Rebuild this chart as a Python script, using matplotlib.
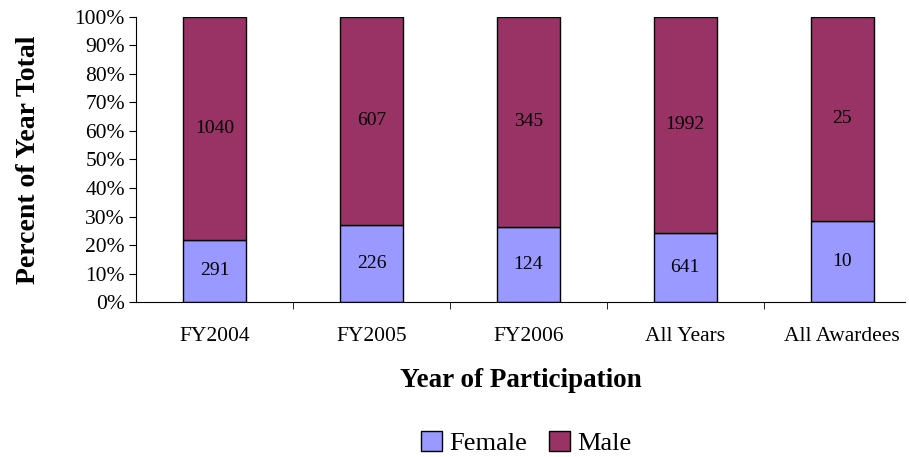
import matplotlib.pyplot as plt
import numpy as np

plt.rcParams['font.family'] = ['Liberation Serif', 'DejaVu Serif']

categories = ['FY2004', 'FY2005', 'FY2006', 'All Years', 'All Awardees']
female = [291, 226, 124, 641, 10]
male = [1040, 607, 345, 1992, 25]

female = np.array(female, dtype=float)
male = np.array(male, dtype=float)
total = female + male
f_pct = female / total * 100
m_pct = male / total * 100

x = np.arange(len(categories))
w = 0.4

fig = plt.figure(figsize=(9.09, 4.57), dpi=100)
ax = fig.add_axes([0.1496, 0.339, 0.846, 0.624])

b1 = ax.bar(x, f_pct, w, color='#9999FF', edgecolor='black', linewidth=1, label='Female')
b2 = ax.bar(x, m_pct, w, bottom=f_pct, color='#993366', edgecolor='black', linewidth=1, label='Male')

for i in range(len(x)):
    ax.text(x[i], f_pct[i] / 2, '%d' % female[i], ha='center', va='center', fontsize=14)
    ax.text(x[i], f_pct[i] + m_pct[i] / 2, '%d' % male[i], ha='center', va='center', fontsize=14)

ax.set_ylim(0, 100)
ax.set_xlim(-0.5, 4.4)
ax.set_yticks(np.arange(0, 101, 10))
ax.set_yticklabels(['%d%%' % v for v in range(0, 101, 10)], fontsize=15.5)
ax.set_xticks(x)
ax.set_xticklabels(categories, fontsize=15.5)
ax.tick_params(axis='x', length=0, pad=18)
ax.set_xticks(np.arange(0.5, 4.5, 1), minor=True)
ax.tick_params(axis='x', which='minor', length=5, direction='out')
ax.tick_params(axis='y', length=5, direction='out', pad=3)

ax.spines['top'].set_visible(False)
ax.spines['right'].set_visible(False)

ax.set_ylabel('Percent of Year Total', fontsize=20, fontweight='bold', labelpad=24)
ax.set_xlabel('Year of Participation', fontsize=19.5, fontweight='bold', labelpad=16)

fig.legend(handles=[b1, b2], loc='center', bbox_to_anchor=(0.579, 0.03), ncol=2, frameon=False,
           fontsize=19, handlelength=0.8, handleheight=0.8, handletextpad=0.3, columnspacing=0.8)

plt.savefig('out.png', dpi=100)
